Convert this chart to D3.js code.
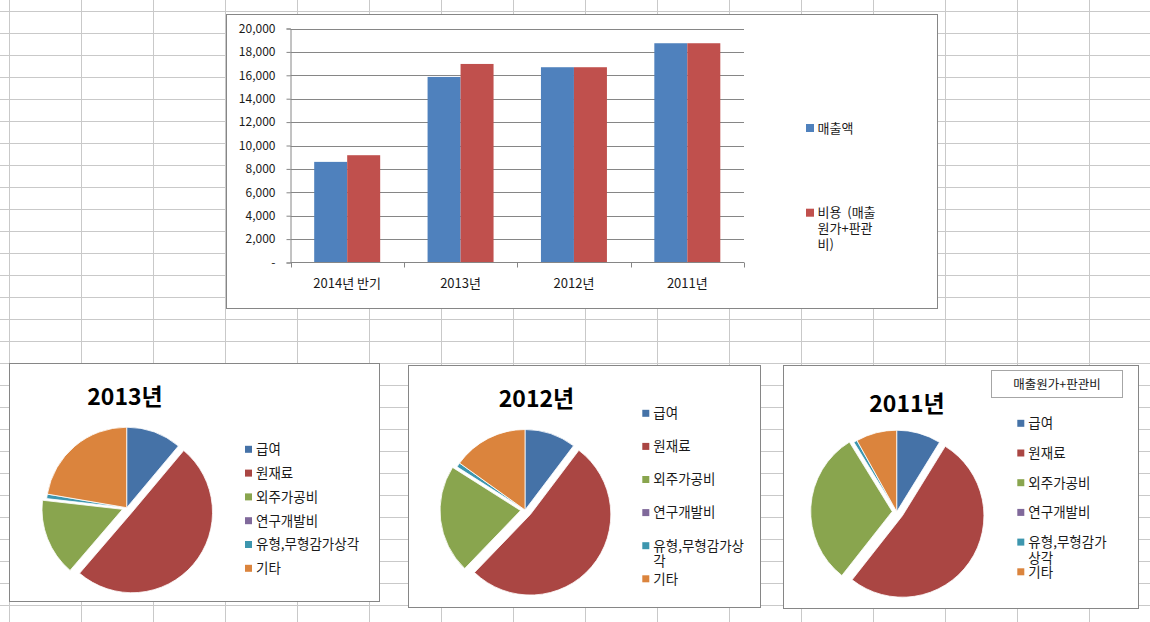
<!DOCTYPE html>
<html>
<head>
<meta charset="utf-8">
<script src="https://cdn.jsdelivr.net/npm/d3@7"></script>
<style>
  html, body { margin: 0; padding: 0; background: #fff; }
  svg { display: block; font-family: "Noto Sans CJK KR", "Noto Sans", sans-serif; }
  text { white-space: pre; }
</style>
</head>
<body>
<script>
// ---------------- DATA ----------------
const barCategories = ["2014년 반기", "2013년", "2012년", "2011년"];
const barSeriesNames = ["매출액", "비용  (매출원가+판관비)"];
const salesValues = [8600, 15860, 16690, 18740];
const costValues = [9170, 16970, 16690, 18740];
const yTickValues = [0, 2000, 4000, 6000, 8000, 10000, 12000, 14000, 16000, 18000, 20000];

const pieCategories = ["급여", "원재료", "외주가공비", "연구개발비", "유형,무형감가상각", "기타"];
const pieTitles = ["2013년", "2012년", "2011년"];
const pie2013 = [11.1, 50.2, 15.5, 0, 0.9, 22.3];
const pie2012 = [10.3, 51.9, 21.8, 0, 0.9, 15.1];
const pie2011 = [8.8, 51.8, 30.6, 0, 0.7, 8.1];
const pieNote = "매출원가+판관비";

// ---------------- STYLE / LAYOUT ----------------
const W = 1150, H = 622;
const barColors = ["#4F81BD", "#C0504D"];
const pieColors = ["#4572A7", "#AA4643", "#89A54E", "#80699B", "#3D96AE", "#DB843D"];
const explode = [0, 7, 4.5, 0, 0, 0];
const textColor = "#1a1a1a";
const frameColor = "#868686";

const svg = d3.select("body").append("svg").attr("width", W).attr("height", H);

// spreadsheet grid
const grid = svg.append("g").attr("stroke", "#c9c9c9").attr("stroke-width", 1);
grid.selectAll("line.v").data(d3.range(9.5, W, 72)).join("line")
  .attr("x1", d => d).attr("x2", d => d).attr("y1", 0).attr("y2", H);
grid.selectAll("line.h").data(d3.range(11.5, H, 22)).join("line")
  .attr("x1", 0).attr("x2", W).attr("y1", d => d).attr("y2", d => d);

// character-level wrapping (Excel style for Korean)
function wrapChars(textSel, str, maxW) {
  const lines = [];
  let cur = "";
  const probe = textSel.append("tspan");
  for (const ch of str) {
    probe.text(cur + ch);
    if (cur.length && probe.node().getComputedTextLength() > maxW) {
      lines.push(cur);
      cur = ch;
    } else cur += ch;
  }
  if (cur) lines.push(cur);
  probe.remove();
  return lines;
}

// ---------------- BAR CHART ----------------
const bar = svg.append("g");
bar.append("rect").attr("x", 226.5).attr("y", 14.5).attr("width", 711).attr("height", 294)
  .attr("fill", "#fff").attr("stroke", frameColor);

const plotL = 290.5, plotR = 744, plotT = 28.5, plotB = 262.5;
const y = d3.scaleLinear().domain([0, 20000]).range([plotB, plotT]);
const x = d3.scaleBand().domain(barCategories).range([plotL, plotR]);
const groupW = x.bandwidth() * 0.582;
const xs = d3.scaleBand().domain([0, 1]).range([0, groupW]);

// gridlines
bar.append("g").selectAll("line").data(yTickValues.filter(v => v > 0)).join("line")
  .attr("x1", plotL).attr("x2", plotR).attr("y1", d => Math.round(y(d)) + 0.5).attr("y2", d => Math.round(y(d)) + 0.5)
  .attr("stroke", frameColor).attr("stroke-width", 1);

// y axis
const yAxis = bar.append("g").attr("transform", `translate(${plotL},0)`)
  .call(d3.axisLeft(y).tickValues(yTickValues).tickSize(4).tickPadding(11)
    .tickFormat(d => d === 0 ? "-" : d3.format(",")(d)));
yAxis.select(".domain").attr("stroke", frameColor);
yAxis.selectAll(".tick line").attr("stroke", frameColor);
yAxis.selectAll(".tick text").attr("fill", textColor).style("font-size", "12px")
  .style("font-family", '"Noto Sans CJK KR", sans-serif');

// bars
const seriesVals = [salesValues, costValues];
barCategories.forEach((c, i) => {
  seriesVals.forEach((vals, s) => {
    bar.append("rect")
      .attr("x", x(c) + (x.bandwidth() - groupW) / 2 + xs(s))
      .attr("width", xs.bandwidth())
      .attr("y", y(vals[i]))
      .attr("height", y(0) - y(vals[i]))
      .attr("fill", barColors[s]);
  });
});

// x axis
bar.append("line").attr("x1", plotL).attr("x2", plotR).attr("y1", plotB).attr("y2", plotB)
  .attr("stroke", frameColor);
const bounds = barCategories.map(c => x(c)).concat([plotR]);
bar.append("g").selectAll("line").data(bounds).join("line")
  .attr("x1", d => Math.round(d) + 0.5).attr("x2", d => Math.round(d) + 0.5)
  .attr("y1", plotB).attr("y2", plotB + 5).attr("stroke", frameColor);
bar.append("g").selectAll("text").data(barCategories).join("text")
  .attr("x", d => x(d) + x.bandwidth() / 2).attr("y", 283).attr("dy", "0.35em")
  .attr("text-anchor", "middle").attr("fill", textColor).style("font-size", "13px")
  .text(d => d);

// bar legend
const barLegendY = [128, 212.7];
barSeriesNames.forEach((name, s) => {
  const g = bar.append("g");
  g.append("rect").attr("x", 806).attr("y", barLegendY[s] - 4).attr("width", 8).attr("height", 8)
    .attr("fill", barColors[s]);
  const t = g.append("text").attr("fill", textColor).style("font-size", "13px");
  const lines = wrapChars(t, name, 61);
  lines.forEach((ln, k) => {
    t.append("tspan").attr("x", 817.5).attr("y", barLegendY[s] + k * 15.7).attr("dy", "0.36em").text(ln);
  });
});

// ---------------- PIE CHARTS ----------------
const pieSets = [pie2013, pie2012, pie2011];
const pieLayouts = [
  { box: [9.5, 363.5, 370, 238], cx: 126.7, cy: 507.7, r: 80.5, titleX: 125, titleY: 397,
    legX: 245, legY: 449.3, legDy: 23.8, wrap: 999 },
  { box: [408.5, 365.5, 352, 242], cx: 525, cy: 510, r: 80.5, titleX: 536.5, titleY: 398.5,
    legX: 642.3, legY: 413.3, legDy: 33.1, wrap: 95 },
  { box: [783.5, 365.5, 355, 243], cx: 896.7, cy: 511.7, r: 81.5, titleX: 907, titleY: 403.5,
    legX: 1017.3, legY: 423.3, legDy: 29.7, wrap: 83 }
];
const pieGen = d3.pie().sort(null).value(d => d);
const arcGen = d3.arc().innerRadius(0);

pieSets.forEach((vals, p) => {
  const L = pieLayouts[p];
  const g = svg.append("g");
  g.append("rect").attr("x", L.box[0]).attr("y", L.box[1]).attr("width", L.box[2]).attr("height", L.box[3])
    .attr("fill", "#fff").attr("stroke", frameColor);

  g.append("text").attr("x", L.titleX).attr("y", L.titleY).attr("dy", "0.35em")
    .attr("text-anchor", "middle").attr("fill", "#000")
    .style("font-size", "23px").style("font-weight", "bold")
    .text(pieTitles[p]);

  const arcs = pieGen(vals);
  const pg = g.append("g").attr("transform", `translate(${L.cx},${L.cy})`);
  pg.selectAll("path").data(arcs).join("path")
    .attr("d", d => arcGen.outerRadius(L.r)(d))
    .attr("transform", (d, i) => {
      const mid = (d.startAngle + d.endAngle) / 2;
      return `translate(${Math.sin(mid) * explode[i]},${-Math.cos(mid) * explode[i]})`;
    })
    .attr("fill", (d, i) => pieColors[i])
    .attr("stroke", "#fff").attr("stroke-width", 0.8);

  // legend
  pieCategories.forEach((name, i) => {
    const yy = L.legY + i * L.legDy;
    g.append("rect").attr("x", L.legX).attr("y", yy - 3.5).attr("width", 7).attr("height", 7)
      .attr("fill", pieColors[i]);
    const t = g.append("text").attr("fill", textColor).style("font-size", "13.5px");
    const lines = wrapChars(t, name, L.wrap);
    lines.forEach((ln, k) => {
      t.append("tspan").attr("x", L.legX + 11).attr("y", yy + k * 15.7).attr("dy", "0.36em").text(ln);
    });
  });
});

// note box on the 2011 pie
const nb = svg.append("g");
nb.append("rect").attr("x", 991.5).attr("y", 370.5).attr("width", 131).attr("height", 27)
  .attr("fill", "#fff").attr("stroke", "#a6a6a6");
nb.append("text").attr("x", 1057).attr("y", 384.5).attr("dy", "0.35em").attr("text-anchor", "middle")
  .attr("fill", textColor).style("font-size", "12.5px").text(pieNote);
</script>
</body>
</html>
